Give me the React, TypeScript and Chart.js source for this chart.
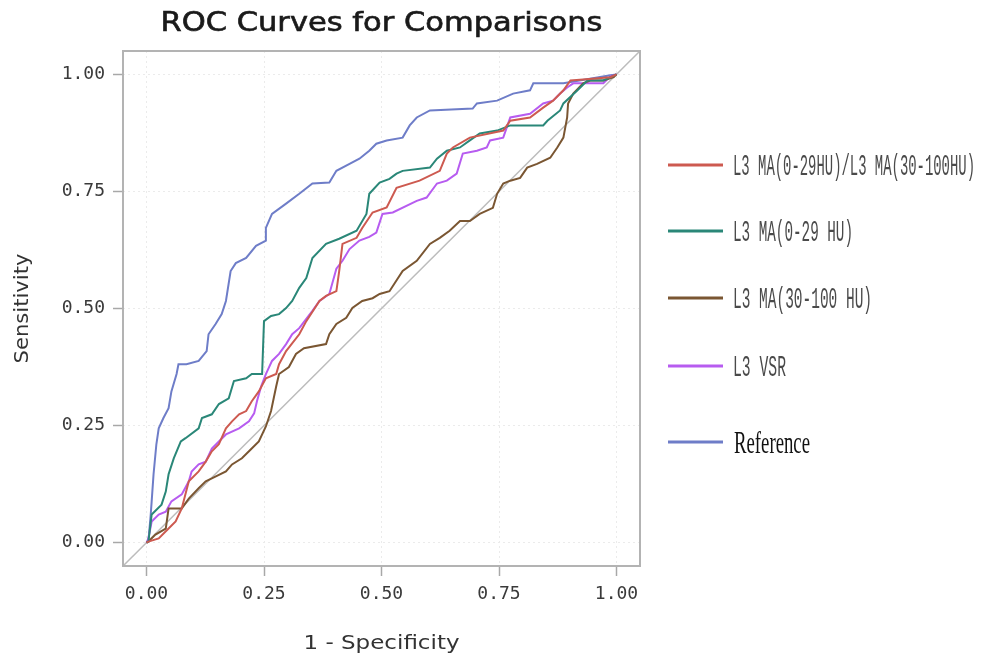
import React, { useEffect, useRef } from 'react';
import { Chart, registerables } from 'chart.js';

Chart.register(...registerables);

// ---------- text ----------
const CHART_TITLE = 'ROC Curves for Comparisons';
const X_TITLE = '1 - Specificity';
const Y_TITLE = 'Sensitivity';

// ---------- axes ----------
const TICK_VALUES = [0, 0.25, 0.5, 0.75, 1];
const AXIS_MIN = -0.05;
const AXIS_MAX = 1.05;

// ---------- series ----------
const SERIES_NAMES = [
  'L3 MA(0-29HU)/L3 MA(30-100HU)',
  'L3 MA(0-29 HU)',
  'L3 MA(30-100 HU)',
  'L3 VSR',
  'Reference',
];
const SERIES_COLORS = ['#cd5a50', '#2a8778', '#7a5632', '#b75cf0', '#6e7dc8'];

// [1 - specificity, sensitivity]
const ratioCurve: [number, number][] = [
  [0, 0], [0.004, 0.002], [0.026, 0.009], [0.047, 0.03], [0.062, 0.045], [0.075, 0.073],
  [0.09, 0.131], [0.111, 0.152], [0.126, 0.173], [0.139, 0.195], [0.154, 0.21], [0.169, 0.244],
  [0.182, 0.259], [0.197, 0.274], [0.212, 0.281], [0.224, 0.302], [0.239, 0.323], [0.254, 0.351],
  [0.276, 0.36], [0.282, 0.381], [0.297, 0.409], [0.325, 0.445], [0.34, 0.473], [0.368, 0.516],
  [0.382, 0.527], [0.404, 0.537], [0.41, 0.58], [0.417, 0.638], [0.447, 0.651], [0.459, 0.672],
  [0.481, 0.705], [0.511, 0.716], [0.532, 0.758], [0.581, 0.773], [0.624, 0.794], [0.639, 0.831],
  [0.652, 0.844], [0.688, 0.865], [0.759, 0.88], [0.774, 0.901], [0.816, 0.908], [0.844, 0.929],
  [0.865, 0.944], [0.887, 0.966], [0.902, 0.987], [0.929, 0.989], [0.987, 0.994], [1, 1],
];

const ma029Curve: [number, number][] = [
  [0, 0], [0.004, 0.002], [0.011, 0.06], [0.032, 0.081], [0.041, 0.109], [0.047, 0.146],
  [0.058, 0.18], [0.073, 0.216], [0.083, 0.223], [0.111, 0.244], [0.118, 0.266], [0.139, 0.274],
  [0.154, 0.296], [0.175, 0.308], [0.186, 0.345], [0.212, 0.351], [0.224, 0.36], [0.246, 0.36],
  [0.25, 0.473], [0.265, 0.484], [0.282, 0.488], [0.297, 0.501], [0.31, 0.516], [0.325, 0.544],
  [0.34, 0.565], [0.353, 0.608], [0.382, 0.638], [0.41, 0.649], [0.447, 0.666], [0.468, 0.702],
  [0.474, 0.745], [0.496, 0.769], [0.517, 0.777], [0.532, 0.788], [0.545, 0.794], [0.603, 0.801],
  [0.618, 0.82], [0.639, 0.837], [0.667, 0.844], [0.688, 0.859], [0.709, 0.874], [0.746, 0.88],
  [0.774, 0.891], [0.844, 0.891], [0.853, 0.901], [0.88, 0.923], [0.887, 0.938], [0.917, 0.966],
  [0.938, 0.987], [0.972, 0.987], [1, 1],
];

const ma30100Curve: [number, number][] = [
  [0, 0], [0.004, 0.002], [0.019, 0.017], [0.041, 0.03], [0.047, 0.073], [0.075, 0.073],
  [0.09, 0.094], [0.111, 0.116], [0.126, 0.131], [0.139, 0.137], [0.169, 0.152], [0.182, 0.167],
  [0.203, 0.18], [0.218, 0.195], [0.239, 0.216], [0.254, 0.248], [0.265, 0.281], [0.276, 0.334],
  [0.282, 0.36], [0.303, 0.375], [0.318, 0.403], [0.335, 0.415], [0.382, 0.424], [0.389, 0.445],
  [0.404, 0.467], [0.425, 0.48], [0.438, 0.501], [0.459, 0.516], [0.481, 0.522], [0.496, 0.531],
  [0.517, 0.537], [0.545, 0.58], [0.575, 0.602], [0.603, 0.638], [0.624, 0.651], [0.645, 0.666],
  [0.667, 0.687], [0.688, 0.687], [0.709, 0.702], [0.737, 0.715], [0.746, 0.745], [0.759, 0.767],
  [0.774, 0.773], [0.795, 0.779], [0.81, 0.801], [0.831, 0.809], [0.859, 0.822], [0.874, 0.844],
  [0.887, 0.865], [0.895, 0.908], [0.897, 0.938], [0.908, 0.959], [0.929, 0.981], [0.944, 0.987],
  [0.972, 0.987], [0.994, 0.994], [1, 1],
];

const vsrCurve: [number, number][] = [
  [0, 0], [0.004, 0.009], [0.011, 0.045], [0.026, 0.06], [0.041, 0.066], [0.053, 0.088],
  [0.075, 0.103], [0.09, 0.131], [0.096, 0.152], [0.111, 0.167], [0.126, 0.173], [0.139, 0.201],
  [0.154, 0.216], [0.169, 0.231], [0.197, 0.244], [0.218, 0.259], [0.229, 0.276], [0.235, 0.302],
  [0.244, 0.334], [0.254, 0.36], [0.267, 0.388], [0.282, 0.403], [0.297, 0.424], [0.31, 0.445],
  [0.325, 0.458], [0.353, 0.495], [0.368, 0.516], [0.389, 0.531], [0.404, 0.585], [0.417, 0.602],
  [0.432, 0.627], [0.453, 0.645], [0.474, 0.653], [0.489, 0.662], [0.502, 0.702], [0.524, 0.705],
  [0.575, 0.73], [0.596, 0.737], [0.618, 0.767], [0.639, 0.773], [0.66, 0.788], [0.673, 0.831],
  [0.703, 0.837], [0.724, 0.844], [0.731, 0.859], [0.759, 0.865], [0.774, 0.908], [0.816, 0.916],
  [0.844, 0.938], [0.865, 0.944], [0.88, 0.959], [0.895, 0.972], [0.908, 0.981], [0.972, 0.981],
  [0.987, 0.996], [1, 1],
];

const referenceCurve: [number, number][] = [
  [0, 0], [0.004, 0.002], [0.009, 0.06], [0.011, 0.088], [0.015, 0.146], [0.021, 0.21],
  [0.026, 0.244], [0.036, 0.266], [0.047, 0.287], [0.053, 0.323], [0.064, 0.36], [0.068, 0.381],
  [0.085, 0.381], [0.111, 0.388], [0.128, 0.409], [0.132, 0.445], [0.147, 0.467], [0.16, 0.488],
  [0.169, 0.516], [0.179, 0.58], [0.19, 0.597], [0.212, 0.608], [0.233, 0.634], [0.254, 0.645],
  [0.254, 0.672], [0.267, 0.702], [0.297, 0.724], [0.325, 0.745], [0.353, 0.767], [0.389, 0.769],
  [0.404, 0.794], [0.432, 0.809], [0.453, 0.82], [0.474, 0.837], [0.489, 0.852], [0.511, 0.859],
  [0.545, 0.865], [0.56, 0.891], [0.575, 0.908], [0.603, 0.923], [0.694, 0.927], [0.703, 0.938],
  [0.746, 0.944], [0.78, 0.959], [0.816, 0.966], [0.823, 0.981], [0.887, 0.981], [0.987, 0.998],
  [1, 1],
];

const SERIES_CURVES = [ratioCurve, ma029Curve, ma30100Curve, vsrCurve, referenceCurve];

// ---------- helpers ----------
function drawFitted(
  ctx: CanvasRenderingContext2D,
  text: string,
  x: number,
  y: number,
  font: string,
  targetWidth: number,
  color: string,
  align: 'center' | 'left',
  rotation = 0,
  strokeWidth = 0
) {
  ctx.save();
  ctx.font = font;
  const w = ctx.measureText(text).width;
  const sx = targetWidth / w;
  ctx.translate(x, y);
  ctx.rotate(rotation);
  ctx.scale(sx, 1);
  ctx.fillStyle = color;
  ctx.textAlign = align;
  ctx.textBaseline = 'alphabetic';
  ctx.fillText(text, 0, 0);
  if (strokeWidth > 0) {
    ctx.strokeStyle = color;
    ctx.lineWidth = strokeWidth;
    ctx.strokeText(text, 0, 0);
  }
  ctx.restore();
}

const LEGEND_ROWS = [165, 231, 298, 366, 442];
const LEGEND_WIDTHS = [242, 120, 139, 53, 76];

const decorPlugin = {
  id: 'decor',
  afterDraw(chart: any) {
    const { ctx, chartArea: a } = chart;
    ctx.save();
    // plot frame
    ctx.strokeStyle = '#b3b3b3';
    ctx.lineWidth = 2;
    ctx.strokeRect(a.left, a.top, a.right - a.left, a.bottom - a.top);

    const cx = (a.left + a.right) / 2;
    const cy = (a.top + a.bottom) / 2;
    // chart title
    drawFitted(ctx, CHART_TITLE, cx, 31, '26px "DejaVu Sans"', 442, '#1a1a1a', 'center', 0, 0.6);
    // axis titles
    drawFitted(ctx, X_TITLE, cx, 649, '19px "DejaVu Sans"', 156, '#333', 'center');
    drawFitted(ctx, Y_TITLE, 28, cy, '19px "DejaVu Sans"', 110, '#333', 'center', -Math.PI / 2);

    // legend
    SERIES_NAMES.forEach((name, i) => {
      const y = LEGEND_ROWS[i];
      ctx.strokeStyle = SERIES_COLORS[i];
      ctx.lineWidth = 3;
      ctx.beginPath();
      ctx.moveTo(668, y);
      ctx.lineTo(723, y);
      ctx.stroke();
      const isRef = i === SERIES_NAMES.length - 1;
      drawFitted(
        ctx,
        name,
        isRef ? 734 : 733,
        y + (isRef ? 11 : 10),
        isRef ? '32px "Liberation Serif"' : '30px "Liberation Mono"',
        LEGEND_WIDTHS[i],
        isRef ? '#111' : '#4a4a4a',
        'left'
      );
    });
    ctx.restore();
  },
};

const tickFont = { family: '"DejaVu Sans Mono"', size: 18 };

export default function App() {
  const canvasRef = useRef<HTMLCanvasElement | null>(null);

  useEffect(() => {
    if (!canvasRef.current) return;
    const datasets: any[] = [
      {
        label: 'diagonal',
        data: [
          { x: AXIS_MIN, y: AXIS_MIN },
          { x: AXIS_MAX, y: AXIS_MAX },
        ],
        borderColor: '#bcbcbc',
        borderWidth: 1.5,
        pointRadius: 0,
        fill: false,
        order: 10,
      },
      ...SERIES_NAMES.map((name, i) => ({
        label: name,
        data: SERIES_CURVES[i].map(([x, y]) => ({ x, y })),
        borderColor: SERIES_COLORS[i],
        borderWidth: 2,
        pointRadius: 0,
        fill: false,
        tension: 0,
        order: i,
      })),
    ];

    const axisCommon = (fit: (s: any) => void) => ({
      type: 'linear' as const,
      min: AXIS_MIN,
      max: AXIS_MAX,
      afterBuildTicks: (s: any) => {
        s.ticks = TICK_VALUES.map((v) => ({ value: v }));
      },
      afterFit: fit,
      grid: {
        color: '#ebebeb',
        lineWidth: 1,
        tickColor: '#a8a8a8',
        tickLength: 10,
        tickWidth: 1.5,
      },
      border: { display: false, dash: [2, 3] },
      ticks: {
        font: tickFont,
        color: '#3a3a3a',
        padding: 8,
        autoSkip: false,
        maxRotation: 0,
        callback: (v: any) => Number(v).toFixed(2),
      },
    });

    const chart = new Chart(canvasRef.current, {
      type: 'line',
      data: { datasets },
      options: {
        animation: false,
        responsive: false,
        devicePixelRatio: 1,
        layout: { padding: { left: 0, top: 51, right: 346, bottom: 0 } },
        plugins: {
          legend: { display: false },
          title: { display: false },
          tooltip: { enabled: false },
        },
        scales: {
          x: axisCommon((s: any) => {
            s.height = 93;
          }),
          y: axisCommon((s: any) => {
            s.width = 123;
          }),
        },
      } as any,
      plugins: [decorPlugin],
    });
    return () => chart.destroy();
  }, []);

  return (
    <div style={{ position: 'absolute', left: 0, top: 0, width: 986, height: 659, background: '#fff' }}>
      <canvas ref={canvasRef} width={986} height={659} style={{ display: 'block' }} />
    </div>
  );
}
